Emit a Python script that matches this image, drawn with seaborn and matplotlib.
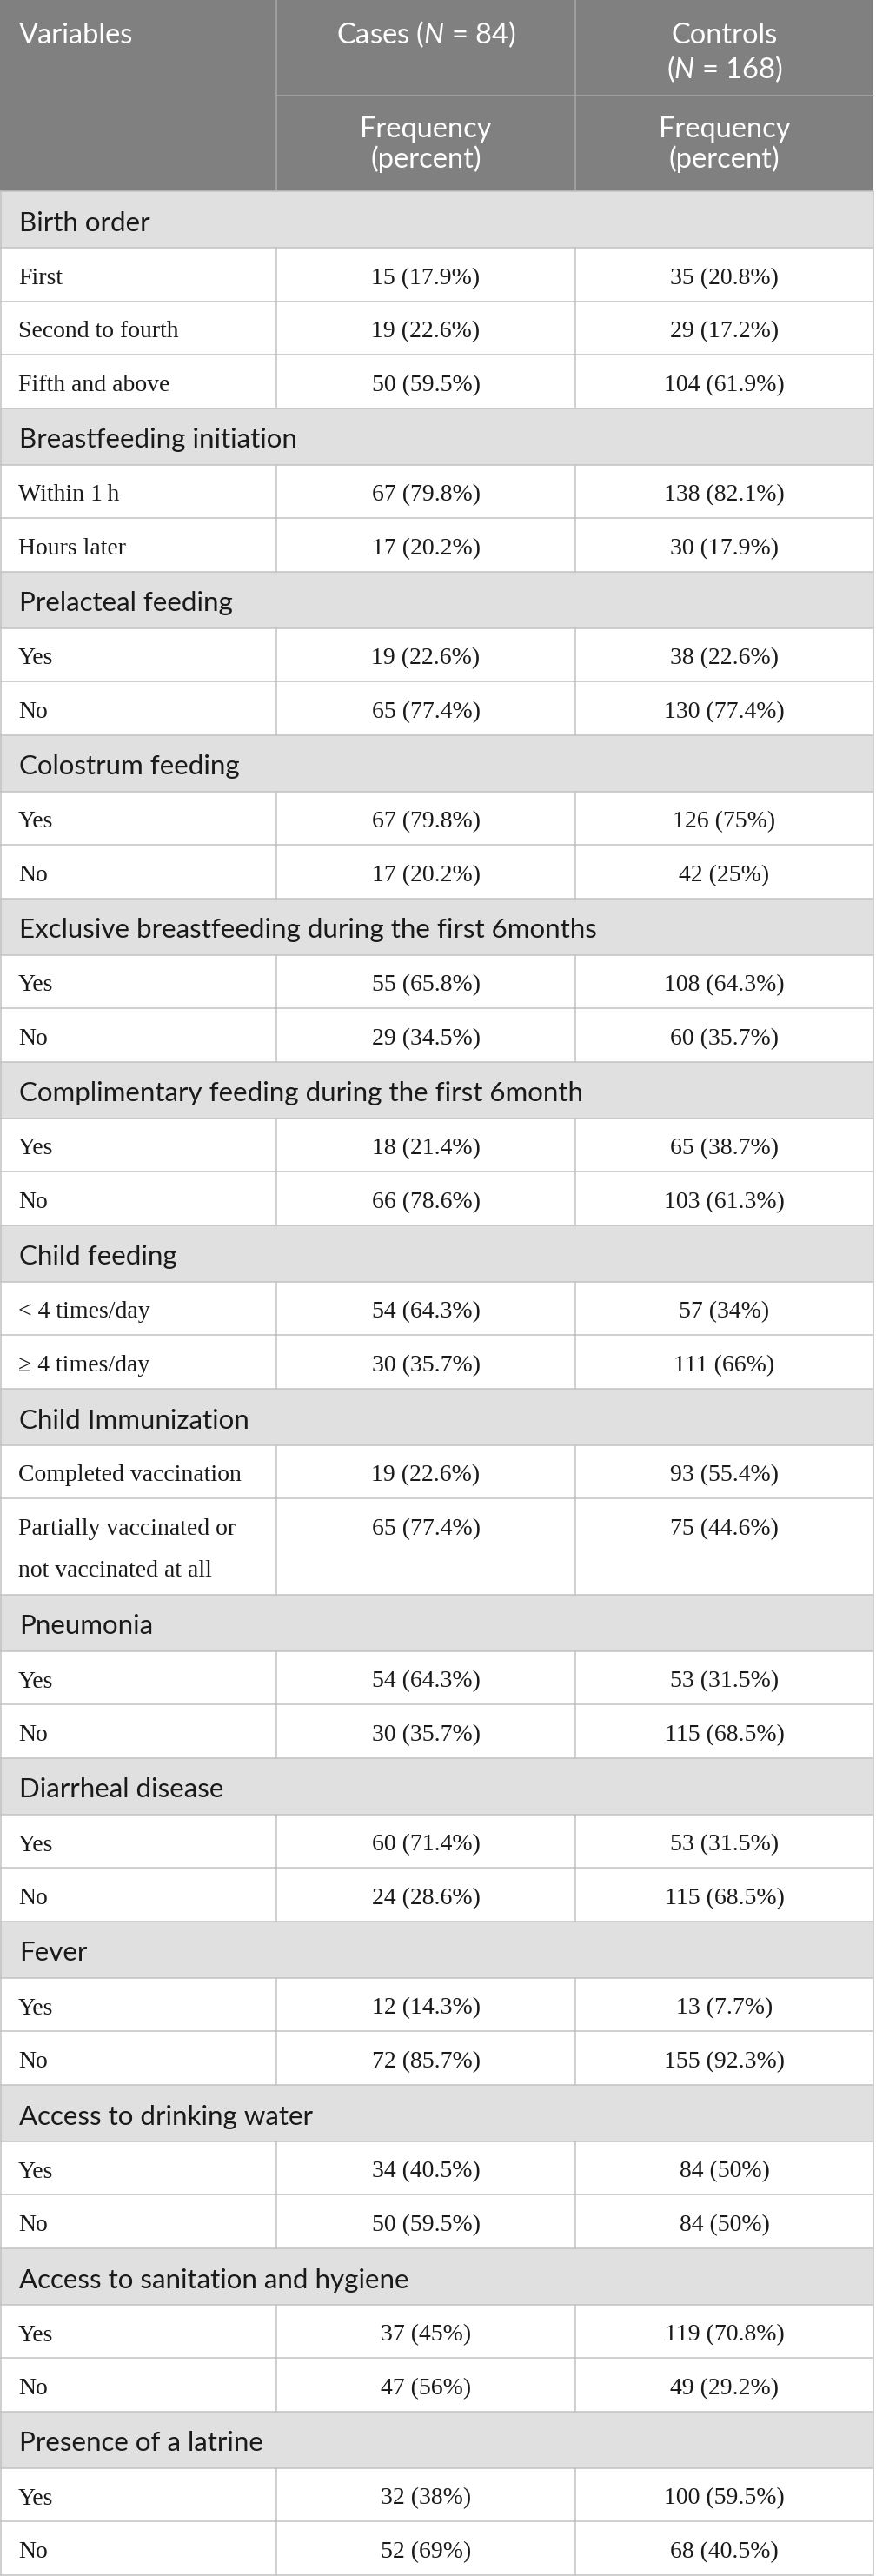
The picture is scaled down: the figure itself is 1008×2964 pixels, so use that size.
import matplotlib
matplotlib.use("Agg")
import matplotlib.pyplot as plt
from matplotlib.patches import Rectangle
import seaborn as sns

# ---------------- data ----------------
header_variables = "Variables"
header_cases = "Cases ($N$ = 84)"
header_controls = ["Controls", "($N$ = 168)"]
header_sub = ["Frequency", "(percent)"]

groups = [
    "Birth order",
    "Breastfeeding initiation",
    "Prelacteal feeding",
    "Colostrum feeding",
    "Exclusive breastfeeding during the first 6months",
    "Complimentary feeding during the first 6month",
    "Child feeding",
    "Child Immunization",
    "Pneumonia",
    "Diarrheal disease",
    "Fever",
    "Access to drinking water",
    "Access to sanitation and hygiene",
    "Presence of a latrine",
]
row_labels = [
    ["First", "Second to fourth", "Fifth and above"],
    ["Within 1\u2009h", "Hours later"],
    ["Yes", "No"],
    ["Yes", "No"],
    ["Yes", "No"],
    ["Yes", "No"],
    ["< 4 times/day", "≥ 4 times/day"],
    ["Completed vaccination", "Partially vaccinated or\nnot vaccinated at all"],
    ["Yes", "No"],
    ["Yes", "No"],
    ["Yes", "No"],
    ["Yes", "No"],
    ["Yes", "No"],
    ["Yes", "No"],
]
cases = [
    ["15 (17.9%)", "19 (22.6%)", "50 (59.5%)"],
    ["67 (79.8%)", "17 (20.2%)"],
    ["19 (22.6%)", "65 (77.4%)"],
    ["67 (79.8%)", "17 (20.2%)"],
    ["55 (65.8%)", "29 (34.5%)"],
    ["18 (21.4%)", "66 (78.6%)"],
    ["54 (64.3%)", "30 (35.7%)"],
    ["19 (22.6%)", "65 (77.4%)"],
    ["54 (64.3%)", "30 (35.7%)"],
    ["60 (71.4%)", "24 (28.6%)"],
    ["12 (14.3%)", "72 (85.7%)"],
    ["34 (40.5%)", "50 (59.5%)"],
    ["37 (45%)", "47 (56%)"],
    ["32 (38%)", "52 (69%)"],
]
controls = [
    ["35 (20.8%)", "29 (17.2%)", "104 (61.9%)"],
    ["138 (82.1%)", "30 (17.9%)"],
    ["38 (22.6%)", "130 (77.4%)"],
    ["126 (75%)", "42 (25%)"],
    ["108 (64.3%)", "60 (35.7%)"],
    ["65 (38.7%)", "103 (61.3%)"],
    ["57 (34%)", "111 (66%)"],
    ["93 (55.4%)", "75 (44.6%)"],
    ["53 (31.5%)", "115 (68.5%)"],
    ["53 (31.5%)", "115 (68.5%)"],
    ["13 (7.7%)", "155 (92.3%)"],
    ["84 (50%)", "84 (50%)"],
    ["119 (70.8%)", "49 (29.2%)"],
    ["100 (59.5%)", "68 (40.5%)"],
]

# ---------------- style ----------------
sns.set_theme(style="white")
plt.rcParams["font.family"] = ["Lato", "DejaVu Sans"]
plt.rcParams["mathtext.fontset"] = "custom"
plt.rcParams["mathtext.rm"] = "Lato"
plt.rcParams["mathtext.it"] = "Lato:italic"

SANS = ["Lato", "DejaVu Sans"]
SERIF = ["Liberation Serif", "DejaVu Serif"]
HEAD_BG = "#808080"
HEAD_LINE = "#a9a9a9"
GROUP_BG = "#e0e0e0"
GRID = "#c2c2c2"
TXT = "#1a1a1a"

W, H = 1008, 2964
X0, X1, X2, X3 = 0, 318, 662, 1005
HEAD_H = 220
G_H = 65
D_H = 61.5
DD_H = 110.5
LINE_GAP = 48

fig = plt.figure(figsize=(W / 100, H / 100), dpi=100)
ax = fig.add_axes([0, 0, 1, 1])
ax.set_xlim(0, W)
ax.set_ylim(H, 0)
ax.axis("off")
lw = 1.1

# header
ax.add_patch(Rectangle((X0, 0), X3 - X0, HEAD_H, color=HEAD_BG, lw=0))
ax.plot([X1, X1], [0, HEAD_H], color=HEAD_LINE, lw=lw)
ax.plot([X2, X2], [0, HEAD_H], color=HEAD_LINE, lw=lw)
ax.plot([X1, X3], [110, 110], color=HEAD_LINE, lw=lw)
hs = 23.5
ax.text(22, 50, header_variables, color="white", fontsize=hs, family=SANS, va="baseline", ha="left")
ax.text((X1 + X2) / 2, 50, header_cases, color="white", fontsize=hs, family=SANS, va="baseline", ha="center")
for i, s in enumerate(header_controls):
    ax.text((X2 + X3) / 2, 50 + 40 * i, s, color="white", fontsize=hs, family=SANS, va="baseline", ha="center")
for cx in [(X1 + X2) / 2, (X2 + X3) / 2]:
    for i, s in enumerate(header_sub):
        ax.text(cx, 158 + 35 * i, s, color="white", fontsize=hs, family=SANS, va="baseline", ha="center")

# body
y = HEAD_H
gs = 22.5
ds = 20
for gi, g in enumerate(groups):
    ax.add_patch(Rectangle((X0, y), X3 - X0, G_H, color=GROUP_BG, lw=0))
    ax.text(22, y + 46, g, color=TXT, fontsize=gs, family=SANS, va="baseline", ha="left")
    ax.plot([X0, X3], [y, y], color=GRID, lw=lw)
    y += G_H
    for lab, cv, ct in zip(row_labels[gi], cases[gi], controls[gi]):
        lines = lab.split("\n")
        h = D_H if len(lines) == 1 else DD_H
        ax.plot([X0, X3], [y, y], color=GRID, lw=lw)
        ax.plot([X1, X1], [y, y + h], color=GRID, lw=lw)
        ax.plot([X2, X2], [y, y + h], color=GRID, lw=lw)
        for li, s in enumerate(lines):
            ax.text(21, y + 42 + LINE_GAP * li, s, color=TXT, fontsize=ds, family=SERIF, va="baseline", ha="left")
        ax.text((X1 + X2) / 2, y + 42, cv, color=TXT, fontsize=ds, family=SERIF, va="baseline", ha="center")
        ax.text((X2 + X3) / 2, y + 42, ct, color=TXT, fontsize=ds, family=SERIF, va="baseline", ha="center")
        y += h

ax.plot([X0, X3], [y, y], color=GRID, lw=lw)
ax.plot([X0 + 0.5, X0 + 0.5], [HEAD_H, y], color=GRID, lw=lw)
ax.plot([X3, X3], [HEAD_H, y], color=GRID, lw=lw)

fig.savefig("out.png", dpi=100)
